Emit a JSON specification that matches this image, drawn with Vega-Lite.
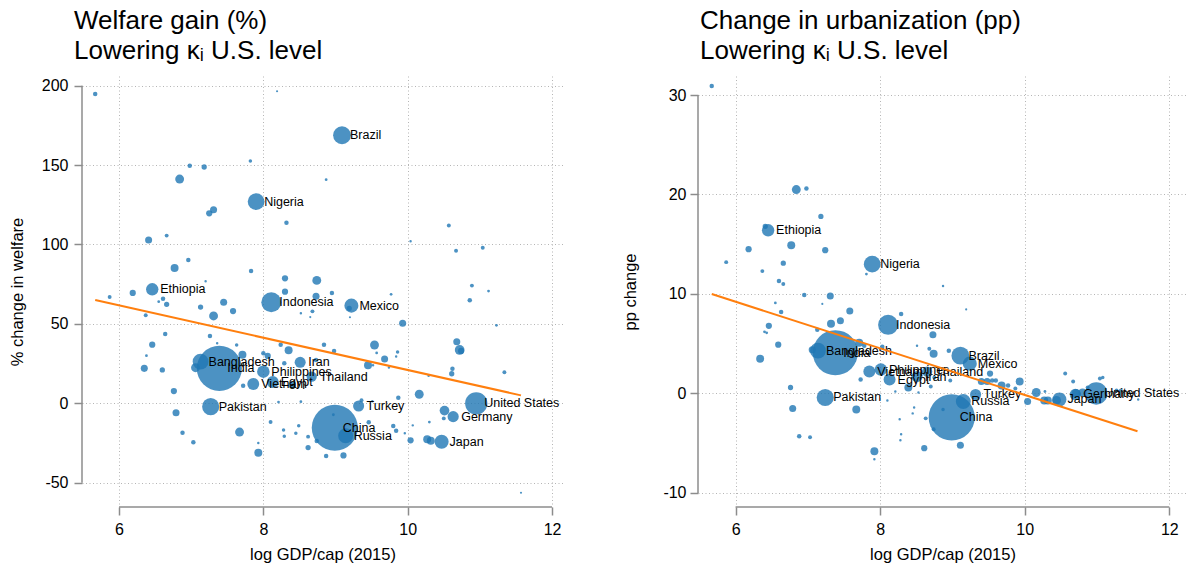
{
  "$schema": "https://vega.github.io/schema/vega-lite/v6.json",
  "padding": {"left": 9, "top": 7, "right": 0, "bottom": 0},
  "spacing": 59,
  "config": {
    "font": "Liberation Sans",
    "view": {"stroke": null},
    "axis": {"domain": false, "tickColor": "#8c8c8c", "tickWidth": 1.5, "tickSize": 8, "labelFontSize": 16, "labelColor": "#000", "labelPadding": 6, "titleFontSize": 16.5, "titleFontWeight": "normal", "titleColor": "#000", "grid": true, "gridColor": "#b5b5b5", "gridDash": [1, 2.5], "gridWidth": 1, "labelExpr": "datum.value < 0 ? '-' + abs(datum.value) : '' + datum.value"},
    "title": {"fontSize": 26, "fontWeight": "normal", "anchor": "start", "frame": "group", "lineHeight": 30.5, "color": "#000", "offset": 12}
  },
  "datasets": {
    "wel": [
      {"country": "Brazil", "lgdp": 9.09, "val": 168.8, "pop": 206},
      {"country": "Nigeria", "lgdp": 7.90, "val": 127.0, "pop": 182},
      {"country": "Ethiopia", "lgdp": 6.46, "val": 71.8, "pop": 99},
      {"country": "Indonesia", "lgdp": 8.11, "val": 63.6, "pop": 258},
      {"country": "Mexico", "lgdp": 9.22, "val": 61.5, "pop": 127},
      {"country": "Bangladesh", "lgdp": 7.13, "val": 26.2, "pop": 161},
      {"country": "India", "lgdp": 7.39, "val": 22.0, "pop": 1311},
      {"country": "Iran", "lgdp": 8.51, "val": 25.8, "pop": 79},
      {"country": "Philippines", "lgdp": 8.00, "val": 19.9, "pop": 101},
      {"country": "Thailand", "lgdp": 8.67, "val": 16.8, "pop": 68},
      {"country": "Vietnam", "lgdp": 7.86, "val": 12.2, "pop": 92},
      {"country": "Egypt", "lgdp": 8.13, "val": 13.4, "pop": 92},
      {"country": "Pakistan", "lgdp": 7.27, "val": -2.1, "pop": 189},
      {"country": "Turkey", "lgdp": 9.32, "val": -1.7, "pop": 79},
      {"country": "United States", "lgdp": 10.95, "val": 0.0, "pop": 321},
      {"country": "Germany", "lgdp": 10.63, "val": -8.4, "pop": 81},
      {"country": "China", "lgdp": 8.99, "val": -15.4, "pop": 1371},
      {"country": "Russia", "lgdp": 9.14, "val": -20.4, "pop": 144},
      {"country": "Japan", "lgdp": 10.47, "val": -24.2, "pop": 127},
      {"lgdp": 5.67, "val": 194.8, "pop": 13},
      {"lgdp": 8.19, "val": 196.5, "pop": 3},
      {"lgdp": 6.98, "val": 149.6, "pop": 13},
      {"lgdp": 7.18, "val": 148.8, "pop": 18},
      {"lgdp": 7.82, "val": 152.6, "pop": 8},
      {"lgdp": 6.84, "val": 141.2, "pop": 51},
      {"lgdp": 8.87, "val": 140.8, "pop": 5},
      {"lgdp": 7.31, "val": 121.9, "pop": 32},
      {"lgdp": 7.25, "val": 119.6, "pop": 25},
      {"lgdp": 8.32, "val": 113.7, "pop": 13},
      {"lgdp": 10.57, "val": 112.0, "pop": 10},
      {"lgdp": 10.04, "val": 102.0, "pop": 4},
      {"lgdp": 10.67, "val": 96.1, "pop": 10},
      {"lgdp": 11.04, "val": 98.0, "pop": 10},
      {"lgdp": 6.41, "val": 102.8, "pop": 32},
      {"lgdp": 6.66, "val": 105.6, "pop": 10},
      {"lgdp": 6.96, "val": 90.2, "pop": 13},
      {"lgdp": 6.77, "val": 85.2, "pop": 41},
      {"lgdp": 7.83, "val": 83.3, "pop": 13},
      {"lgdp": 7.20, "val": 76.8, "pop": 4},
      {"lgdp": 8.30, "val": 78.7, "pop": 25},
      {"lgdp": 8.74, "val": 77.4, "pop": 51},
      {"lgdp": 8.30, "val": 70.3, "pop": 25},
      {"lgdp": 8.73, "val": 67.4, "pop": 32},
      {"lgdp": 8.95, "val": 69.5, "pop": 13},
      {"lgdp": 9.77, "val": 68.6, "pop": 5},
      {"lgdp": 10.89, "val": 74.1, "pop": 10},
      {"lgdp": 11.12, "val": 70.7, "pop": 5},
      {"lgdp": 10.86, "val": 64.9, "pop": 13},
      {"lgdp": 5.87, "val": 66.9, "pop": 10},
      {"lgdp": 6.19, "val": 69.5, "pop": 25},
      {"lgdp": 6.61, "val": 65.9, "pop": 13},
      {"lgdp": 6.55, "val": 64.0, "pop": 5},
      {"lgdp": 6.66, "val": 62.3, "pop": 18},
      {"lgdp": 7.13, "val": 60.6, "pop": 18},
      {"lgdp": 7.45, "val": 63.6, "pop": 32},
      {"lgdp": 7.58, "val": 58.1, "pop": 25},
      {"lgdp": 7.31, "val": 55.0, "pop": 51},
      {"lgdp": 9.19, "val": 59.8, "pop": 18},
      {"lgdp": 8.52, "val": 56.7, "pop": 4},
      {"lgdp": 8.68, "val": 57.9, "pop": 10},
      {"lgdp": 8.65, "val": 54.3, "pop": 3},
      {"lgdp": 9.20, "val": 54.2, "pop": 3},
      {"lgdp": 6.37, "val": 55.4, "pop": 10},
      {"lgdp": 9.93, "val": 50.4, "pop": 32},
      {"lgdp": 11.23, "val": 49.1, "pop": 5},
      {"lgdp": 6.64, "val": 43.6, "pop": 13},
      {"lgdp": 7.26, "val": 42.4, "pop": 13},
      {"lgdp": 7.36, "val": 37.8, "pop": 4},
      {"lgdp": 6.46, "val": 36.9, "pop": 25},
      {"lgdp": 6.38, "val": 30.0, "pop": 5},
      {"lgdp": 6.35, "val": 22.0, "pop": 32},
      {"lgdp": 6.60, "val": 21.0, "pop": 18},
      {"lgdp": 7.06, "val": 22.4, "pop": 51},
      {"lgdp": 6.76, "val": 7.7, "pop": 25},
      {"lgdp": 6.79, "val": -5.9, "pop": 32},
      {"lgdp": 6.88, "val": -18.5, "pop": 13},
      {"lgdp": 7.03, "val": -24.6, "pop": 13},
      {"lgdp": 7.67, "val": -18.1, "pop": 51},
      {"lgdp": 7.93, "val": -31.1, "pop": 41},
      {"lgdp": 7.93, "val": -25.0, "pop": 4},
      {"lgdp": 7.71, "val": 30.6, "pop": 41},
      {"lgdp": 7.63, "val": 36.7, "pop": 8},
      {"lgdp": 8.00, "val": 31.5, "pop": 13},
      {"lgdp": 8.06, "val": 29.8, "pop": 25},
      {"lgdp": 7.72, "val": 11.1, "pop": 13},
      {"lgdp": 8.24, "val": 36.9, "pop": 13},
      {"lgdp": 8.35, "val": 33.4, "pop": 41},
      {"lgdp": 8.29, "val": 25.2, "pop": 13},
      {"lgdp": 8.40, "val": 11.5, "pop": 32},
      {"lgdp": 8.73, "val": 27.3, "pop": 13},
      {"lgdp": 8.84, "val": 36.9, "pop": 13},
      {"lgdp": 8.98, "val": 32.9, "pop": 13},
      {"lgdp": 9.54, "val": 36.7, "pop": 51},
      {"lgdp": 9.57, "val": 31.7, "pop": 5},
      {"lgdp": 9.68, "val": 27.9, "pop": 32},
      {"lgdp": 9.45, "val": 23.9, "pop": 41},
      {"lgdp": 9.52, "val": 24.0, "pop": 4},
      {"lgdp": 9.86, "val": 32.3, "pop": 8},
      {"lgdp": 9.84, "val": 29.5, "pop": 4},
      {"lgdp": 9.74, "val": 22.5, "pop": 4},
      {"lgdp": 10.68, "val": 38.8, "pop": 32},
      {"lgdp": 10.72, "val": 33.6, "pop": 61},
      {"lgdp": 10.74, "val": 33.0, "pop": 25},
      {"lgdp": 10.62, "val": 21.8, "pop": 13},
      {"lgdp": 10.61, "val": 18.6, "pop": 18},
      {"lgdp": 10.29, "val": 17.4, "pop": 4},
      {"lgdp": 11.34, "val": 19.5, "pop": 10},
      {"lgdp": 11.57, "val": -56.3, "pop": 3},
      {"lgdp": 10.27, "val": -22.7, "pop": 41},
      {"lgdp": 10.32, "val": -23.6, "pop": 41},
      {"lgdp": 10.04, "val": -23.3, "pop": 25},
      {"lgdp": 10.51, "val": -4.6, "pop": 61},
      {"lgdp": 10.50, "val": -9.5, "pop": 10},
      {"lgdp": 10.16, "val": 5.7, "pop": 51},
      {"lgdp": 9.87, "val": 3.5, "pop": 13},
      {"lgdp": 10.30, "val": -11.8, "pop": 5},
      {"lgdp": 10.07, "val": -13.9, "pop": 4},
      {"lgdp": 9.96, "val": -18.9, "pop": 4},
      {"lgdp": 9.80, "val": -14.3, "pop": 13},
      {"lgdp": 9.84, "val": -17.3, "pop": 13},
      {"lgdp": 9.46, "val": -12.0, "pop": 13},
      {"lgdp": 9.51, "val": 1.3, "pop": 4},
      {"lgdp": 9.36, "val": 1.9, "pop": 10},
      {"lgdp": 8.97, "val": -7.2, "pop": 5},
      {"lgdp": 9.11, "val": -32.8, "pop": 25},
      {"lgdp": 8.87, "val": -33.2, "pop": 13},
      {"lgdp": 8.74, "val": -23.7, "pop": 13},
      {"lgdp": 8.62, "val": -27.9, "pop": 18},
      {"lgdp": 8.62, "val": -21.0, "pop": 10},
      {"lgdp": 8.45, "val": -18.9, "pop": 8},
      {"lgdp": 8.49, "val": -14.1, "pop": 8},
      {"lgdp": 8.28, "val": -16.8, "pop": 8},
      {"lgdp": 8.29, "val": -20.8, "pop": 8},
      {"lgdp": 8.10, "val": -11.8, "pop": 10},
      {"lgdp": 8.21, "val": 0.8, "pop": 5},
      {"lgdp": 8.52, "val": 1.0, "pop": 5},
      {"lgdp": 10.69, "val": -23.5, "pop": 5}
    ],
    "wfit": [
      {"lgdp": 5.67, "val": 65.0},
      {"lgdp": 11.57, "val": 5.0}
    ],
    "urb": [
      {"country": "Brazil", "lgdp": 9.11, "val": 3.8, "pop": 206},
      {"country": "Mexico", "lgdp": 9.24, "val": 3.0, "pop": 127},
      {"country": "Nigeria", "lgdp": 7.89, "val": 13.0, "pop": 182},
      {"country": "Ethiopia", "lgdp": 6.45, "val": 16.4, "pop": 99},
      {"country": "Indonesia", "lgdp": 8.11, "val": 6.9, "pop": 258},
      {"country": "India", "lgdp": 7.38, "val": 4.1, "pop": 1311},
      {"country": "Bangladesh", "lgdp": 7.14, "val": 4.3, "pop": 161},
      {"country": "Pakistan", "lgdp": 7.24, "val": -0.4, "pop": 189},
      {"country": "Philippines", "lgdp": 8.01, "val": 2.4, "pop": 101},
      {"country": "Vietnam", "lgdp": 7.85, "val": 2.2, "pop": 92},
      {"country": "Egypt", "lgdp": 8.13, "val": 1.4, "pop": 92},
      {"country": "Iran", "lgdp": 8.51, "val": 1.7, "pop": 79},
      {"country": "Thailand", "lgdp": 8.65, "val": 2.2, "pop": 68},
      {"country": "Turkey", "lgdp": 9.32, "val": -0.1, "pop": 79},
      {"country": "Russia", "lgdp": 9.15, "val": -0.8, "pop": 144},
      {"country": "China", "lgdp": 8.99, "val": -2.4, "pop": 1371},
      {"country": "Japan", "lgdp": 10.48, "val": -0.6, "pop": 127},
      {"country": "Germany", "lgdp": 10.70, "val": -0.1, "pop": 81},
      {"country": "United States", "lgdp": 10.99, "val": 0.0, "pop": 321},
      {"lgdp": 5.67, "val": 30.9, "pop": 13},
      {"lgdp": 6.84, "val": 20.5, "pop": 51},
      {"lgdp": 6.98, "val": 20.6, "pop": 13},
      {"lgdp": 7.18, "val": 17.8, "pop": 18},
      {"lgdp": 6.41, "val": 16.8, "pop": 18},
      {"lgdp": 6.77, "val": 14.9, "pop": 41},
      {"lgdp": 6.18, "val": 14.5, "pop": 25},
      {"lgdp": 7.24, "val": 14.4, "pop": 25},
      {"lgdp": 5.87, "val": 13.2, "pop": 10},
      {"lgdp": 6.66, "val": 13.1, "pop": 18},
      {"lgdp": 7.81, "val": 12.0, "pop": 5},
      {"lgdp": 6.37, "val": 12.3, "pop": 10},
      {"lgdp": 6.60, "val": 11.3, "pop": 13},
      {"lgdp": 6.66, "val": 11.0, "pop": 10},
      {"lgdp": 8.87, "val": 10.8, "pop": 4},
      {"lgdp": 6.95, "val": 9.9, "pop": 13},
      {"lgdp": 7.31, "val": 9.8, "pop": 32},
      {"lgdp": 6.55, "val": 9.1, "pop": 5},
      {"lgdp": 7.20, "val": 9.0, "pop": 3},
      {"lgdp": 9.19, "val": 8.45, "pop": 3},
      {"lgdp": 6.63, "val": 8.2, "pop": 13},
      {"lgdp": 7.58, "val": 8.3, "pop": 32},
      {"lgdp": 8.29, "val": 8.0, "pop": 13},
      {"lgdp": 7.45, "val": 7.3, "pop": 32},
      {"lgdp": 7.32, "val": 7.0, "pop": 41},
      {"lgdp": 6.46, "val": 6.8, "pop": 25},
      {"lgdp": 6.40, "val": 6.2, "pop": 5},
      {"lgdp": 6.43, "val": 6.1, "pop": 5},
      {"lgdp": 7.13, "val": 6.4, "pop": 13},
      {"lgdp": 8.73, "val": 5.9, "pop": 32},
      {"lgdp": 6.59, "val": 4.9, "pop": 25},
      {"lgdp": 7.71, "val": 5.1, "pop": 41},
      {"lgdp": 7.78, "val": 4.8, "pop": 13},
      {"lgdp": 8.03, "val": 4.7, "pop": 13},
      {"lgdp": 8.51, "val": 4.8, "pop": 4},
      {"lgdp": 8.68, "val": 4.5, "pop": 10},
      {"lgdp": 8.74, "val": 4.0, "pop": 41},
      {"lgdp": 8.95, "val": 4.3, "pop": 13},
      {"lgdp": 6.34, "val": 3.5, "pop": 41},
      {"lgdp": 7.06, "val": 4.4, "pop": 32},
      {"lgdp": 7.73, "val": 1.4, "pop": 13},
      {"lgdp": 6.76, "val": 0.6, "pop": 18},
      {"lgdp": 6.79, "val": -1.5, "pop": 32},
      {"lgdp": 7.67, "val": -1.6, "pop": 41},
      {"lgdp": 6.88, "val": -4.3, "pop": 13},
      {"lgdp": 7.03, "val": -4.4, "pop": 10},
      {"lgdp": 7.92, "val": -5.8, "pop": 41},
      {"lgdp": 7.92, "val": -6.6, "pop": 4},
      {"lgdp": 8.10, "val": -0.7, "pop": 4},
      {"lgdp": 8.21, "val": 0.2, "pop": 4},
      {"lgdp": 8.39, "val": 0.6, "pop": 41},
      {"lgdp": 8.53, "val": 0.1, "pop": 4},
      {"lgdp": 8.70, "val": 0.7, "pop": 10},
      {"lgdp": 8.97, "val": 1.3, "pop": 10},
      {"lgdp": 8.75, "val": 1.6, "pop": 10},
      {"lgdp": 8.27, "val": -2.6, "pop": 4},
      {"lgdp": 8.29, "val": -4.1, "pop": 4},
      {"lgdp": 8.28, "val": -4.7, "pop": 4},
      {"lgdp": 8.45, "val": -2.0, "pop": 4},
      {"lgdp": 8.47, "val": -1.4, "pop": 4},
      {"lgdp": 8.63, "val": -2.5, "pop": 10},
      {"lgdp": 8.61, "val": -5.5, "pop": 25},
      {"lgdp": 8.74, "val": -3.6, "pop": 10},
      {"lgdp": 8.87, "val": -1.6, "pop": 8},
      {"lgdp": 9.11, "val": -5.2, "pop": 32},
      {"lgdp": 9.40, "val": 1.2, "pop": 32},
      {"lgdp": 9.48, "val": 1.2, "pop": 32},
      {"lgdp": 9.52, "val": 2.0, "pop": 25},
      {"lgdp": 9.55, "val": 1.3, "pop": 13},
      {"lgdp": 9.60, "val": 1.3, "pop": 13},
      {"lgdp": 9.68, "val": 0.8, "pop": 41},
      {"lgdp": 9.77, "val": 0.8, "pop": 13},
      {"lgdp": 9.87, "val": 0.5, "pop": 10},
      {"lgdp": 9.93, "val": 1.2, "pop": 41},
      {"lgdp": 10.04, "val": -0.8, "pop": 32},
      {"lgdp": 10.16, "val": 0.1, "pop": 51},
      {"lgdp": 10.27, "val": -0.7, "pop": 41},
      {"lgdp": 10.32, "val": -0.7, "pop": 41},
      {"lgdp": 10.28, "val": 0.2, "pop": 5},
      {"lgdp": 10.44, "val": -0.7, "pop": 51},
      {"lgdp": 10.56, "val": 2.0, "pop": 10},
      {"lgdp": 10.67, "val": 1.2, "pop": 10},
      {"lgdp": 10.71, "val": 0.0, "pop": 51},
      {"lgdp": 10.80, "val": 0.1, "pop": 41},
      {"lgdp": 10.87, "val": 0.6, "pop": 10},
      {"lgdp": 11.04, "val": 1.5, "pop": 10},
      {"lgdp": 11.08, "val": 1.6, "pop": 8},
      {"lgdp": 11.27, "val": 0.3, "pop": 10},
      {"lgdp": 11.33, "val": 0.3, "pop": 10},
      {"lgdp": 11.57, "val": -0.6, "pop": 4}
    ],
    "ufit": [
      {"lgdp": 5.67, "val": 10.0},
      {"lgdp": 11.56, "val": -3.8}
    ]
  },
  "hconcat": [
    {
      "width": 481,
      "height": 431,
      "title": {"text": ["Welfare gain (%)", "Lowering κᵢ U.S. level"], "dx": -8},
      "layer": [
        {
          "data": {"name": "wel"},
          "mark": {"type": "circle", "color": "#1f77b4", "opacity": 0.8},
          "encoding": {
            "x": {"field": "lgdp", "type": "quantitative", "scale": {"domain": [5.487, 12.152], "nice": false, "zero": false}, "axis": {"values": [6, 8, 10, 12], "title": "log GDP/cap (2015)", "titlePadding": 9}},
            "y": {"field": "val", "type": "quantitative", "scale": {"domain": [-65.3, 206.1], "nice": false, "zero": false}, "axis": {"values": [-50, 0, 50, 100, 150, 200], "title": "% change in welfare", "titlePadding": 16}},
            "size": {"field": "pop", "type": "quantitative", "scale": {"domain": [0, 1400], "range": [0, 2170]}, "legend": null}
          }
        },
        {
          "data": {"name": "wel"},
          "transform": [{"filter": "datum.country"}],
          "mark": {"type": "text", "align": "left", "baseline": "middle", "dx": 8, "fontSize": 12.5, "color": "#000"},
          "encoding": {"x": {"field": "lgdp", "type": "quantitative"}, "y": {"field": "val", "type": "quantitative"}, "text": {"field": "country"}}
        },
        {
          "data": {"name": "wfit"},
          "mark": {"type": "line", "color": "#ff7f0e", "strokeWidth": 2},
          "encoding": {"x": {"field": "lgdp", "type": "quantitative"}, "y": {"field": "val", "type": "quantitative"}}
        },
        {
          "data": {"values": [{}]},
          "mark": {"type": "rule", "color": "#8c8c8c", "strokeWidth": 1.5},
          "encoding": {"x": {"datum": 5.487}, "y": {"datum": 200}, "y2": {"datum": -50}}
        },
        {
          "data": {"values": [{}]},
          "mark": {"type": "rule", "color": "#8c8c8c", "strokeWidth": 1.5},
          "encoding": {"x": {"datum": 6}, "x2": {"datum": 12}, "y": {"datum": -65.3}}
        }
      ]
    },
    {
      "width": 489,
      "height": 431,
      "title": {"text": ["Change in urbanization (pp)", "Lowering κᵢ U.S. level"], "dx": 2},
      "layer": [
        {
          "data": {"name": "urb"},
          "mark": {"type": "circle", "color": "#1f77b4", "opacity": 0.8},
          "encoding": {
            "x": {"field": "lgdp", "type": "quantitative", "scale": {"domain": [5.480, 12.245], "nice": false, "zero": false}, "axis": {"values": [6, 8, 10, 12], "title": "log GDP/cap (2015)", "titlePadding": 9}},
            "y": {"field": "val", "type": "quantitative", "scale": {"domain": [-11.41, 31.91], "nice": false, "zero": false}, "axis": {"values": [-10, 0, 10, 20, 30], "title": "pp change", "titlePadding": 24, "labelPadding": 4}},
            "size": {"field": "pop", "type": "quantitative", "scale": {"domain": [0, 1400], "range": [0, 2170]}, "legend": null}
          }
        },
        {
          "data": {"name": "urb"},
          "transform": [{"filter": "datum.country"}],
          "mark": {"type": "text", "align": "left", "baseline": "middle", "dx": 8, "fontSize": 12.5, "color": "#000"},
          "encoding": {"x": {"field": "lgdp", "type": "quantitative"}, "y": {"field": "val", "type": "quantitative"}, "text": {"field": "country"}}
        },
        {
          "data": {"name": "ufit"},
          "mark": {"type": "line", "color": "#ff7f0e", "strokeWidth": 2},
          "encoding": {"x": {"field": "lgdp", "type": "quantitative"}, "y": {"field": "val", "type": "quantitative"}}
        },
        {
          "data": {"values": [{}]},
          "mark": {"type": "rule", "color": "#8c8c8c", "strokeWidth": 1.5},
          "encoding": {"x": {"datum": 5.480}, "y": {"datum": 30}, "y2": {"datum": -10}}
        },
        {
          "data": {"values": [{}]},
          "mark": {"type": "rule", "color": "#8c8c8c", "strokeWidth": 1.5},
          "encoding": {"x": {"datum": 6}, "x2": {"datum": 12}, "y": {"datum": -11.41}}
        }
      ]
    }
  ]
}
